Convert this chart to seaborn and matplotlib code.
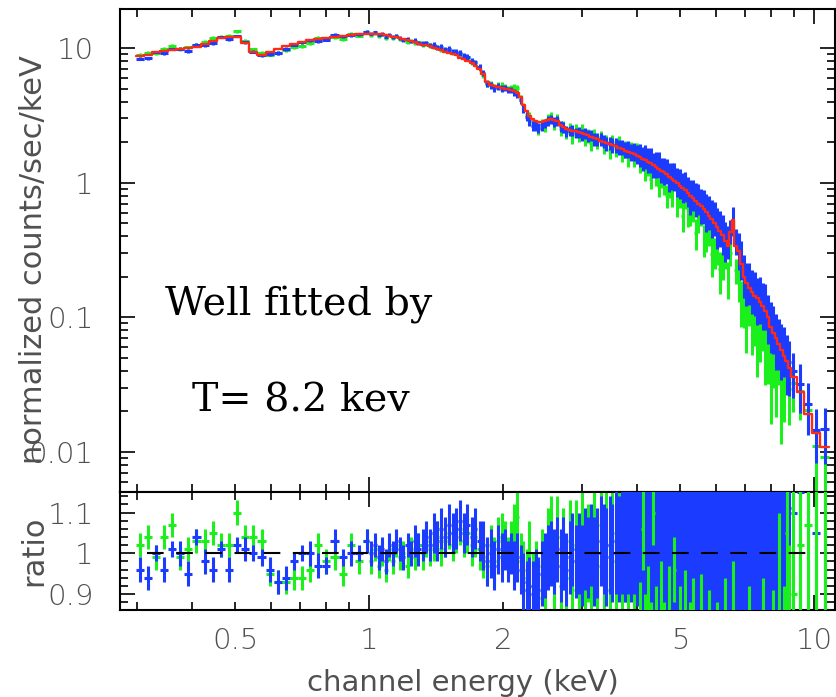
import numpy as np
import matplotlib
matplotlib.use("Agg")
import matplotlib.pyplot as plt
from matplotlib.ticker import FixedLocator, FuncFormatter, MultipleLocator, NullFormatter, LogLocator
import seaborn as sns

# ---------------------------------------------------------------------------
# Spectrum: channel energies (keV, bin centres), folded model (counts/s/keV)
# and data/model residuals (percent) with 1-sigma errors (percent) for the
# two detectors.
# ---------------------------------------------------------------------------
energy = [
    # 0.3 - 1 keV
    0.305, 0.318, 0.332, 0.346, 0.361, 0.376, 0.392, 0.409, 0.427, 0.445,
    0.464, 0.484, 0.505, 0.527, 0.549, 0.573, 0.597, 0.623, 0.650, 0.677,
    0.706, 0.737, 0.768, 0.801, 0.836, 0.871, 0.909, 0.948, 0.988,
    # 1 - 2 keV
    1.01, 1.03, 1.05, 1.07, 1.09, 1.11, 1.13, 1.15, 1.17, 1.19,
    1.22, 1.24, 1.27, 1.29, 1.32, 1.34, 1.37, 1.40, 1.42, 1.45,
    1.48, 1.51, 1.54, 1.57, 1.60, 1.63, 1.66, 1.70, 1.73, 1.77,
    1.80, 1.84, 1.88, 1.91, 1.95, 1.99,
    # 2 - 4 keV
    2.02, 2.05, 2.08, 2.12, 2.15, 2.19, 2.22, 2.26, 2.29, 2.33,
    2.37, 2.40, 2.44, 2.48, 2.52, 2.56, 2.60, 2.64, 2.69, 2.73,
    2.77, 2.82, 2.86, 2.91, 2.96, 3.00, 3.05, 3.10, 3.15, 3.20,
    3.25, 3.31, 3.36, 3.41, 3.47, 3.52, 3.58, 3.64, 3.70, 3.76,
    3.82, 3.88, 3.94, 4.00,
    # 4 - 8.8 keV
    4.06, 4.12, 4.17, 4.23, 4.29, 4.35, 4.41, 4.47, 4.53, 4.59,
    4.66, 4.72, 4.79, 4.85, 4.92, 4.99, 5.06, 5.13, 5.20, 5.27,
    5.34, 5.42, 5.49, 5.57, 5.65, 5.72, 5.80, 5.88, 5.97, 6.05,
    6.13, 6.22, 6.31, 6.39, 6.48, 6.57, 6.66, 6.76, 6.85, 6.95,
    7.04, 7.14, 7.24, 7.34, 7.44, 7.55, 7.65, 7.76, 7.87, 7.98,
    8.09, 8.20, 8.31, 8.43, 8.55, 8.67, 8.79,
    # grouped high-energy channels
    8.95, 9.30, 9.70, 10.10, 10.55,
]

model = [
    8.7, 8.9, 9.3, 9.5, 9.7, 9.9, 10.0, 10.2, 10.8, 11.3,
    11.9, 12.1, 12.1, 10.9, 9.4, 8.9, 9.4, 9.9, 10.4, 10.8,
    11.0, 11.4, 11.6, 11.9, 12.1, 12.3, 12.5, 12.6, 12.8,
    12.8, 12.8, 12.7, 12.6, 12.4, 12.3, 12.1, 12.0, 11.8, 11.6,
    11.4, 11.2, 11.0, 10.8, 10.6, 10.5, 10.3, 10.0, 9.8, 9.6,
    9.4, 9.2, 9.0, 8.8, 8.5, 8.3, 8.0, 7.7, 7.4, 7.0,
    6.4, 5.6, 5.3, 5.2, 5.1, 5.05,
    5.0, 5.0, 4.9, 4.8, 4.6, 4.3, 3.8, 3.4, 3.1, 2.95,
    2.85, 2.8, 2.8, 2.85, 2.9, 2.95, 2.9, 2.85, 2.7, 2.58,
    2.5, 2.46, 2.43, 2.4, 2.37, 2.34, 2.3, 2.25, 2.2, 2.15,
    2.1, 2.05, 2.0, 1.96, 1.93, 1.90, 1.86, 1.82, 1.77, 1.73,
    1.69, 1.65, 1.62, 1.58,
    1.54, 1.50, 1.47, 1.43, 1.40, 1.36, 1.31, 1.27, 1.23, 1.19,
    1.15, 1.11, 1.07, 1.03, 0.99, 0.95, 0.91, 0.88, 0.84, 0.80,
    0.77, 0.73, 0.70, 0.67, 0.64, 0.61, 0.57, 0.54, 0.50, 0.47,
    0.44, 0.41, 0.37, 0.34, 0.43, 0.53, 0.34, 0.31, 0.25, 0.20,
    0.18, 0.165, 0.155, 0.145, 0.138, 0.13, 0.122, 0.112, 0.10, 0.085,
    0.077, 0.070, 0.063, 0.057, 0.052, 0.047, 0.042,
    0.036, 0.028, 0.019, 0.0138, 0.0108,
]

blue_dev = [
    -4, -6, 0, -4, 1, 0, -5, 4, -2, -4,
    1, -4, 2, 1, 0, -1, -4, -7, -6, -2,
    0, 0, -3, -3, 3, -1, 0, 0, 3,
    0, 2, -1, 1, -2, 2, 0, 3, 1, -1,
    2, 0, 3, 1, 2, 4, 2, 5, 3, 6,
    4, 7, 5, 6, 8, 5, 7, 4, 6, 3,
    2, -2, 0, -3, 1, -1,
    1, -2, 0, -3, -1, -4, -7, -9, -8, -10,
    -7, -9, -5, -3, -1, 0, -2, 1, -3, 0,
    -4, -1, 1, -2, 0, -3, 1, -1, 2, -2,
    0, 3, 1, -1, 2, 0, 3, 1, 4, 2,
    5, 3, 6, 4,
    5, 2, 8, 4, 7, 1, 6, 9, 3, 5,
    8, 2, 6, 10, 4, 7, 3, 9, 5, 1,
    8, 6, 11, 4, 7, 2, 9, 5, 12, 3,
    8, 6, 4, 10, 2, 0, 9, 5, 12, 8,
    4, 14, 6, 10, 3, 11, 7, 15, 5, 9,
    13, 4, 10, 8, 16, 6, 11,
    10, 15, 20, 5, 36,
]

blue_err = [
    3, 3, 2, 3, 2, 3, 3, 2, 3, 3,
    2, 3, 2, 3, 2, 2, 3, 3, 3, 2,
    2, 3, 3, 2, 3, 2, 3, 2, 3,
    3, 3, 3, 3, 3, 3, 3, 3, 3, 3,
    3, 3, 4, 4, 4, 4, 4, 5, 5, 5,
    5, 5, 5, 5, 5, 5, 5, 5, 5, 5,
    6, 6, 6, 6, 6, 6,
    5, 5, 5, 6, 6, 6, 7, 7, 7, 8,
    8, 8, 8, 8, 8, 8, 8, 8, 9, 9,
    9, 9, 9, 9, 10, 10, 10, 10, 10, 11,
    11, 11, 11, 12, 12, 12, 13, 13, 14, 14,
    15, 15, 16, 17,
    20, 21, 22, 22, 23, 22, 23, 24, 22, 24,
    23, 25, 24, 26, 25, 27, 26, 28, 27, 29,
    28, 30, 29, 31, 30, 32, 31, 33, 32, 34,
    33, 35, 34, 30, 20, 24, 24, 32, 36, 38,
    37, 39, 38, 40, 39, 42, 41, 43, 42, 45,
    44, 46, 45, 48, 47, 50, 49,
    40, 45, 50, 45, 60,
]

green_dev = [
    2, 4, -1, 4, 7, -1, 1, 3, 3, 5,
    2, 2, 10, 4, 4, 3, -5, -7, -7, -6,
    -6, -4, 2, -2, -1, -5, 2, -2, 3,
    -2, 1, -3, 0, -4, 1, -2, 2, -1, 0,
    -3, 1, -1, 2, 0, 3, 1, 2, 4, 1,
    3, 5, 2, 4, 6, 3, 5, 2, 4, 1,
    -1, -3, 2, -2, 3, 4,
    3, -1, 2, 6, 9, -2, -4, -6, 0, -8,
    -5, -11, -3, -7, 2, 5, -5, 4, -8, 1,
    -6, 3, -9, 2, -4, 6, -7, 0, -10, 4,
    -3, 7, -6, 2, -9, 5, -2, 8, -5, 3,
    -8, 6, -4, 9,
    -15, 6, -20, -12, -24, 10, -18, -26, -14, -22,
    -30, -17, -26, -4, -32, -20, -38, -16, -30, -26,
    -20, -42, -28, -17, -40, -34, -25, -45, -38, -30,
    -48, -36, -22, -42, -30, -12, -34, -40, -46, -38,
    -50, -28, -44, -36, -52, -40, -30, -48, -42, -55,
    -35, -46, -20, -50, -38, 5, -30,
    -10, 2, 7, -20, -15,
]

green_err = [
    3, 3, 3, 3, 3, 3, 3, 3, 3, 3,
    3, 3, 3, 3, 3, 3, 3, 3, 3, 3,
    3, 3, 3, 3, 3, 3, 3, 3, 3,
    3, 3, 3, 3, 3, 3, 3, 3, 3, 3,
    3, 3, 3, 3, 4, 4, 4, 4, 4, 4,
    4, 4, 4, 4, 4, 4, 5, 5, 5, 5,
    5, 5, 5, 6, 6, 6,
    5, 5, 6, 6, 6, 7, 7, 7, 8, 8,
    8, 9, 9, 9, 9, 9, 10, 10, 10, 10,
    10, 10, 11, 11, 11, 11, 11, 12, 12, 12,
    12, 12, 13, 13, 13, 13, 14, 14, 14, 15,
    15, 15, 16, 16,
    8, 10, 10, 9, 12, 8, 10, 12, 12, 10,
    14, 14, 12, 8, 12, 12, 15, 12, 14, 14,
    14, 15, 12, 12, 16, 16, 16, 18, 16, 18,
    18, 18, 16, 18, 14, 10, 14, 18, 20, 20,
    20, 20, 22, 22, 22, 24, 24, 24, 26, 26,
    26, 28, 30, 30, 30, 25, 32,
    35, 40, 35, 50, 60,
]

x_ticks_major = [1, 10]
x_ticks_minor = [0.3, 0.4, 0.5, 0.6, 0.7, 0.8, 0.9, 2, 3, 4, 5, 6, 7, 8, 9]
x_tick_labels = {0.5: "0.5", 1: "1", 2: "2", 5: "5", 10: "10"}

annotation_lines = ["Well fitted by", "T= 8.2 kev"]

BLUE = "#1b3cff"
GREEN = "#1cf01c"
RED = "#ff2a14"
LABEL_GREY = "#505050"

# ---------------------------------------------------------------------------
sns.set_theme(style="ticks")
plt.rcParams["font.family"] = ["DejaVu Sans"]
plt.rcParams["font.weight"] = "light"
plt.rcParams["axes.facecolor"] = "white"
plt.rcParams["figure.facecolor"] = "white"

E = np.asarray(energy)
mod = np.asarray(model)
logE = np.log10(E)
mid = 10 ** ((logE[:-1] + logE[1:]) / 2)
edges = np.concatenate([[E[0] ** 2 / mid[0]], mid, [E[-1] ** 2 / mid[-1]]])
xerr = [E - edges[:-1], edges[1:] - E]

b_ratio = 1 + np.asarray(blue_dev) / 100.0
b_rerr = np.asarray(blue_err) / 100.0
g_ratio = 1 + np.asarray(green_dev) / 100.0
g_rerr = np.asarray(green_err) / 100.0

fig = plt.figure(figsize=(8.37, 6.97), dpi=100)
L, W = 120 / 837, 715 / 837
ax_top = fig.add_axes([L, 1 - 491.7 / 697, W, (491.7 - 8.5) / 697])
ax_rat = fig.add_axes([L, 1 - 610 / 697, W, (610 - 491.7) / 697])

for ax in (ax_top, ax_rat):
    ax.set_xscale("log")
    ax.set_xlim(0.2754, 11.13)
ax_top.set_yscale("log")
ax_top.set_ylim(0.00507, 19.65)
ax_rat.set_ylim(0.861, 1.151)

eb = dict(fmt="none", elinewidth=2.2, capsize=0)

# upper panel: data and folded model
ax_top.errorbar(E, mod * g_ratio, yerr=mod * g_rerr, xerr=xerr, ecolor=GREEN, zorder=2, **eb)
ax_top.errorbar(E, mod * b_ratio, yerr=mod * b_rerr, xerr=xerr, ecolor=BLUE, zorder=3, **eb)
step_x = np.repeat(edges, 2)[1:-1]
step_y = np.repeat(mod, 2)
sns.lineplot(x=step_x, y=step_y, sort=False, estimator=None, color=RED,
             linewidth=1.7, ax=ax_top, zorder=4, legend=False)

# lower panel: data / model
hi = E >= 4.03
ax_rat.errorbar(E[~hi], g_ratio[~hi], yerr=g_rerr[~hi],
                xerr=[xerr[0][~hi], xerr[1][~hi]], ecolor=GREEN, zorder=2, **eb)
ax_rat.errorbar(E, b_ratio, yerr=b_rerr, xerr=xerr, ecolor=BLUE, zorder=3, **eb)
ax_rat.errorbar(E[hi], g_ratio[hi], yerr=g_rerr[hi],
                xerr=[xerr[0][hi], xerr[1][hi]], ecolor=GREEN, zorder=4, **eb)
ax_rat.hlines(1.0, 0.316, 9.6, colors="black", linewidth=1.5,
              linestyles=(0, (8, 6)), zorder=5)

# axes styling
for ax in (ax_top, ax_rat):
    for s in ax.spines.values():
        s.set_linewidth(1.5)
        s.set_color("black")
        s.set_visible(True)
    ax.tick_params(which="both", direction="in", top=True, right=True,
                   color="black", width=1.2, labelcolor=LABEL_GREY, labelsize=21)
    ax.tick_params(which="major", length=10.5)
    ax.tick_params(which="minor", length=5.5)
    ax.tick_params(axis="y", which="both", pad=19)
    ax.tick_params(axis="x", which="both", pad=12)
    ax.xaxis.set_major_locator(FixedLocator(x_ticks_major))
    ax.xaxis.set_minor_locator(FixedLocator(x_ticks_minor))
    ax.grid(False)

fmt_x = FuncFormatter(lambda v, p: x_tick_labels.get(round(v, 3), ""))
ax_rat.xaxis.set_major_formatter(fmt_x)
ax_rat.xaxis.set_minor_formatter(fmt_x)
ax_top.xaxis.set_major_formatter(NullFormatter())
ax_top.xaxis.set_minor_formatter(NullFormatter())

ax_top.yaxis.set_major_locator(LogLocator(base=10, numticks=10))
ax_top.yaxis.set_minor_locator(LogLocator(base=10, subs=np.arange(2, 10), numticks=20))
ax_top.yaxis.set_major_formatter(FuncFormatter(lambda v, p: f"{v:g}"))
ax_top.yaxis.set_minor_formatter(NullFormatter())

ax_rat.yaxis.set_major_locator(MultipleLocator(0.1))
ax_rat.yaxis.set_minor_locator(MultipleLocator(0.02))
ax_rat.yaxis.set_major_formatter(FuncFormatter(lambda v, p: f"{v:g}"))

ax_top.set_ylabel("normalized counts/sec/keV", fontsize=22, color=LABEL_GREY)
ax_top.yaxis.set_label_coords(-0.100, 0.48)
ax_rat.set_ylabel("ratio", fontsize=22, color=LABEL_GREY)
ax_rat.yaxis.set_label_coords(-0.100, 0.5)
ax_rat.set_xlabel("channel energy (keV)", fontsize=21, color=LABEL_GREY)
ax_rat.xaxis.set_label_coords(0.480, -0.50)

fig.text(165 / 837, 1 - 315 / 697, annotation_lines[0], family="DejaVu Serif",
         fontsize=28.5, fontweight="normal", color="black", ha="left", va="baseline")
fig.text(192 / 837, 1 - 412 / 697, annotation_lines[1], family="DejaVu Serif",
         fontsize=28.5, fontweight="normal", color="black", ha="left", va="baseline")

fig.savefig("out.png", dpi=100)
